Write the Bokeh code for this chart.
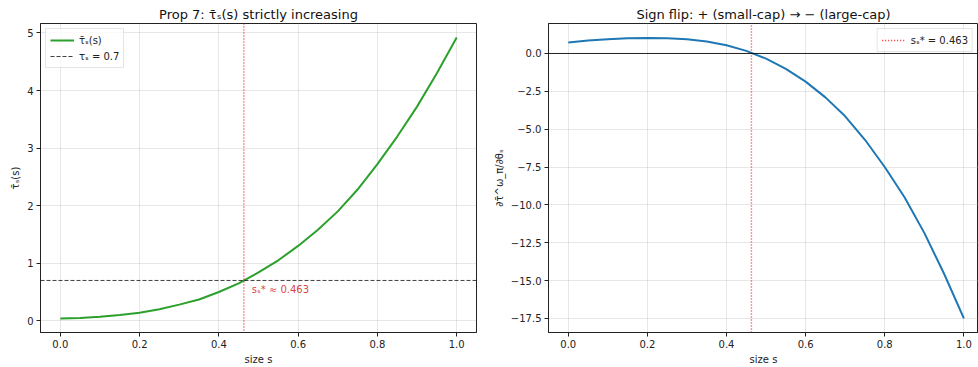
from bokeh.plotting import figure
from bokeh.layouts import row
from bokeh.models import Span, Range1d, FixedTicker, Legend, LegendItem
from bokeh.embed import file_html
from bokeh.resources import INLINE
from bokeh.core.properties import value

# ---- data ----
s_vals = [0.00, 0.05, 0.10, 0.15, 0.20, 0.25, 0.30, 0.35, 0.40, 0.45, 0.50,
          0.55, 0.60, 0.65, 0.70, 0.75, 0.80, 0.85, 0.90, 0.95, 1.00]
tau_bar = [0.04, 0.05, 0.07, 0.10, 0.14, 0.20, 0.28, 0.37, 0.50, 0.65, 0.84,
           1.05, 1.30, 1.58, 1.90, 2.28, 2.72, 3.20, 3.72, 4.30, 4.92]
deriv = [0.73, 0.85, 0.94, 1.00, 1.03, 1.01, 0.94, 0.79, 0.54, 0.17, -0.34,
         -1.02, -1.86, -2.90, -4.15, -5.70, -7.50, -9.50, -11.85, -14.55, -17.50]
tau_S = 0.7
s_star = 0.463

x_ticks = [0.0, 0.2, 0.4, 0.6, 0.8, 1.0]
x_tick_labels = ["0.0", "0.2", "0.4", "0.6", "0.8", "1.0"]
y1_ticks = [0, 1, 2, 3, 4, 5]
y1_tick_labels = ["0", "1", "2", "3", "4", "5"]
y2_ticks = [0.0, -2.5, -5.0, -7.5, -10.0, -12.5, -15.0, -17.5]
y2_tick_labels = ["0.0", "\u22122.5", "\u22125.0", "\u22127.5", "\u221210.0",
                  "\u221212.5", "\u221215.0", "\u221217.5"]

FONT = "DejaVu Sans"
GREEN = "#2ca02c"
BLUE = "#1f77b4"


def style(p, xt, xl, yt, yl):
    p.title.text_font = FONT
    p.title.text_font_size = "13px"
    p.title.text_font_style = "normal"
    p.title.text_color = "#111111"
    p.title.align = "center"
    p.title.standoff = 4
    p.title.offset = 0
    p.outline_line_color = "#222222"
    p.outline_line_width = 1
    for ax in (p.xaxis[0], p.yaxis[0]):
        ax.axis_line_color = "#222222"
        ax.major_tick_line_color = "#222222"
        ax.major_tick_out = 4
        ax.major_tick_in = 0
        ax.minor_tick_line_color = None
        ax.major_label_text_font = FONT
        ax.major_label_text_font_size = "10px"
        ax.major_label_text_color = "#222222"
        ax.major_label_standoff = 3
        ax.axis_label_text_font = FONT
        ax.axis_label_text_font_size = "10px"
        ax.axis_label_text_font_style = "normal"
        ax.axis_label_text_color = "#222222"
        ax.axis_label_standoff = 3
    p.xaxis[0].ticker = FixedTicker(ticks=xt)
    p.xaxis[0].major_label_overrides = {t: l for t, l in zip(xt, xl)}
    p.yaxis[0].ticker = FixedTicker(ticks=yt)
    p.yaxis[0].major_label_overrides = {t: l for t, l in zip(yt, yl)}
    p.grid.grid_line_color = "#b0b0b0"
    p.grid.grid_line_alpha = 0.3
    p.background_fill_color = "white"
    p.border_fill_color = "white"


def style_legend(lg):
    lg.label_text_font = FONT
    lg.label_text_font_size = "10px"
    lg.label_text_color = "#222222"
    lg.label_height = 14
    lg.glyph_height = 14
    lg.glyph_width = 24
    lg.spacing = 2
    lg.padding = 4
    lg.margin = 5
    lg.border_line_color = "#cccccc"
    lg.background_fill_alpha = 0.8


# ---- left panel ----
x1_lo, x1_hi = -0.05, 1.05
y1_lo, y1_hi = -0.204, 5.164
p1 = figure(width=490, height=367, output_backend="svg", toolbar_location=None,
            x_range=Range1d(x1_lo, x1_hi), y_range=Range1d(y1_lo, y1_hi),
            title="Prop 7: \u03c4\u0304\u209b(s) strictly increasing",
            min_border_left=40, min_border_right=14, min_border_top=23,
            min_border_bottom=35)
p1.xaxis.axis_label = "size s"
p1.yaxis.axis_label = "\u03c4\u0304\u209b(s)"
style(p1, x_ticks, x_tick_labels, y1_ticks, y1_tick_labels)

r_curve = p1.line(s_vals, tau_bar, line_color=GREEN, line_width=2)
r_thr = p1.line([x1_lo, x1_hi], [tau_S, tau_S], line_color="black",
                line_dash="4 2", line_width=1, line_alpha=0.75)
p1.add_layout(Span(location=s_star, dimension="height", line_color="red",
                   line_alpha=0.85, line_dash="1 2", line_width=1.4))
p1.text(x=[s_star + 0.02], y=[tau_S - 0.15], text=["s\u209b* \u2248 0.463"],
        text_font=value(FONT), text_font_size="10px", text_color="#d62728",
        text_alpha=0.9, text_baseline="middle", text_align="left")

lg1 = Legend(items=[LegendItem(label="\u03c4\u0304\u209b(s)", renderers=[r_curve]),
                    LegendItem(label="\u03c4\u209b = 0.7", renderers=[r_thr])],
             location="top_left")
style_legend(lg1)
p1.add_layout(lg1)

# ---- right panel ----
x2_lo, x2_hi = -0.05, 1.037
y2_lo, y2_hi = -18.43, 1.98
p2 = figure(width=488, height=367, output_backend="svg", toolbar_location=None,
            x_range=Range1d(x2_lo, x2_hi), y_range=Range1d(y2_lo, y2_hi),
            title="Sign flip: + (small-cap) \u2192 \u2212 (large-cap)",
            min_border_left=57, min_border_right=0, min_border_top=23,
            min_border_bottom=35)
p2.xaxis.axis_label = "size s"
p2.yaxis.axis_label = "\u2202\u03c4\u0304^\u03c9_\u03c0/\u2202\u03b8\u209b"
style(p2, x_ticks, x_tick_labels, y2_ticks, y2_tick_labels)

p2.add_layout(Span(location=0, dimension="width", line_color="black",
                   line_width=1, line_alpha=0.85))
p2.line(s_vals, deriv, line_color=BLUE, line_width=2)
r_vs = p2.line([s_star, s_star], [y2_lo, y2_hi], line_color="red",
               line_alpha=0.85, line_dash="1 2", line_width=1.4)

lg2 = Legend(items=[LegendItem(label="s\u209b* = 0.463", renderers=[r_vs])],
             location="top_right")
style_legend(lg2)
p2.add_layout(lg2)

layout = row(p1, p2)
open("out.html", "w").write(file_html(layout, INLINE))
